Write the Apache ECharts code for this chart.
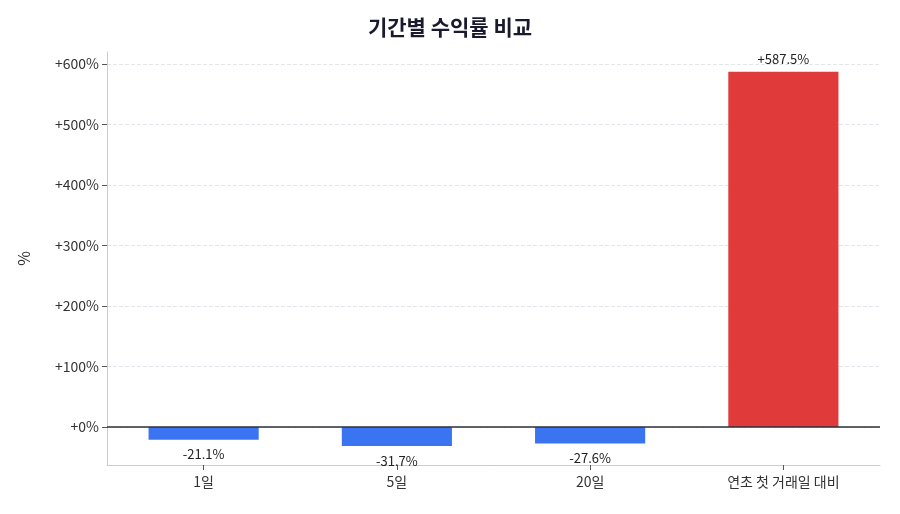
<!DOCTYPE html>
<html><head><meta charset="utf-8">
<script src="https://cdn.jsdelivr.net/npm/echarts@6/dist/echarts.min.js"></script>
<style>html,body{margin:0;padding:0;background:#fff}#c{width:900px;height:514px}</style>
</head><body><div id="c"></div>
<script>
const categories = ['1일','5일','20일','연초 첫 거래일 대비'];
const values = [-21.1, -31.7, -27.6, 587.5];
const yTicks = [0,100,200,300,400,500,600];
const font = '"Noto Sans CJK KR","Noto Sans",sans-serif';
const chart = echarts.init(document.getElementById('c'));
chart.setOption({
  textStyle:{fontFamily:font},
  title:{text:'기간별 수익률 비교',left:'center',top:12,textStyle:{fontFamily:font,fontSize:21,fontWeight:'bold',color:'#1a1a2e'}},
  grid:{left:107,right:20,top:52,bottom:49},
  xAxis:{type:'category',data:categories,
    axisLine:{onZero:false,lineStyle:{color:'#cccccc'}},
    axisTick:{show:true,alignWithLabel:true,lineStyle:{color:'#555'}},
    axisLabel:{color:'#333',fontSize:14,fontFamily:font,margin:10}},
  yAxis:{type:'value',min:-63,max:620,name:'%',nameLocation:'middle',nameGap:75,
    nameTextStyle:{fontSize:16,color:'#333',fontFamily:font},
    axisLine:{show:true,lineStyle:{color:'#cccccc'}},
    axisTick:{show:true,customValues:yTicks,lineStyle:{color:'#555'}},
    axisLabel:{customValues:yTicks,color:'#333',fontSize:14,fontFamily:font,formatter:v=>(v>=0?'+':'')+v+'%'},
    splitLine:{show:true,lineStyle:{type:'dashed',color:'#e3e6ea'}}},
  series:[{type:'bar',barWidth:'57%',
    data:values.map(v=>({value:v,itemStyle:{color:v>=0?'#e03a3a':'#3b74f0'},
      label:{show:true,position:v>=0?'top':'bottom',distance:v>=0?6:8,color:'#222',fontSize:13,fontFamily:font,
        formatter:(v>=0?'+':'')+v.toFixed(1)+'%'}})),
    markLine:{silent:true,symbol:'none',label:{show:false},lineStyle:{color:'#2b2f3a',type:'solid',width:1.5},data:[{yAxis:0}]}
  }]
});
</script></body></html>
